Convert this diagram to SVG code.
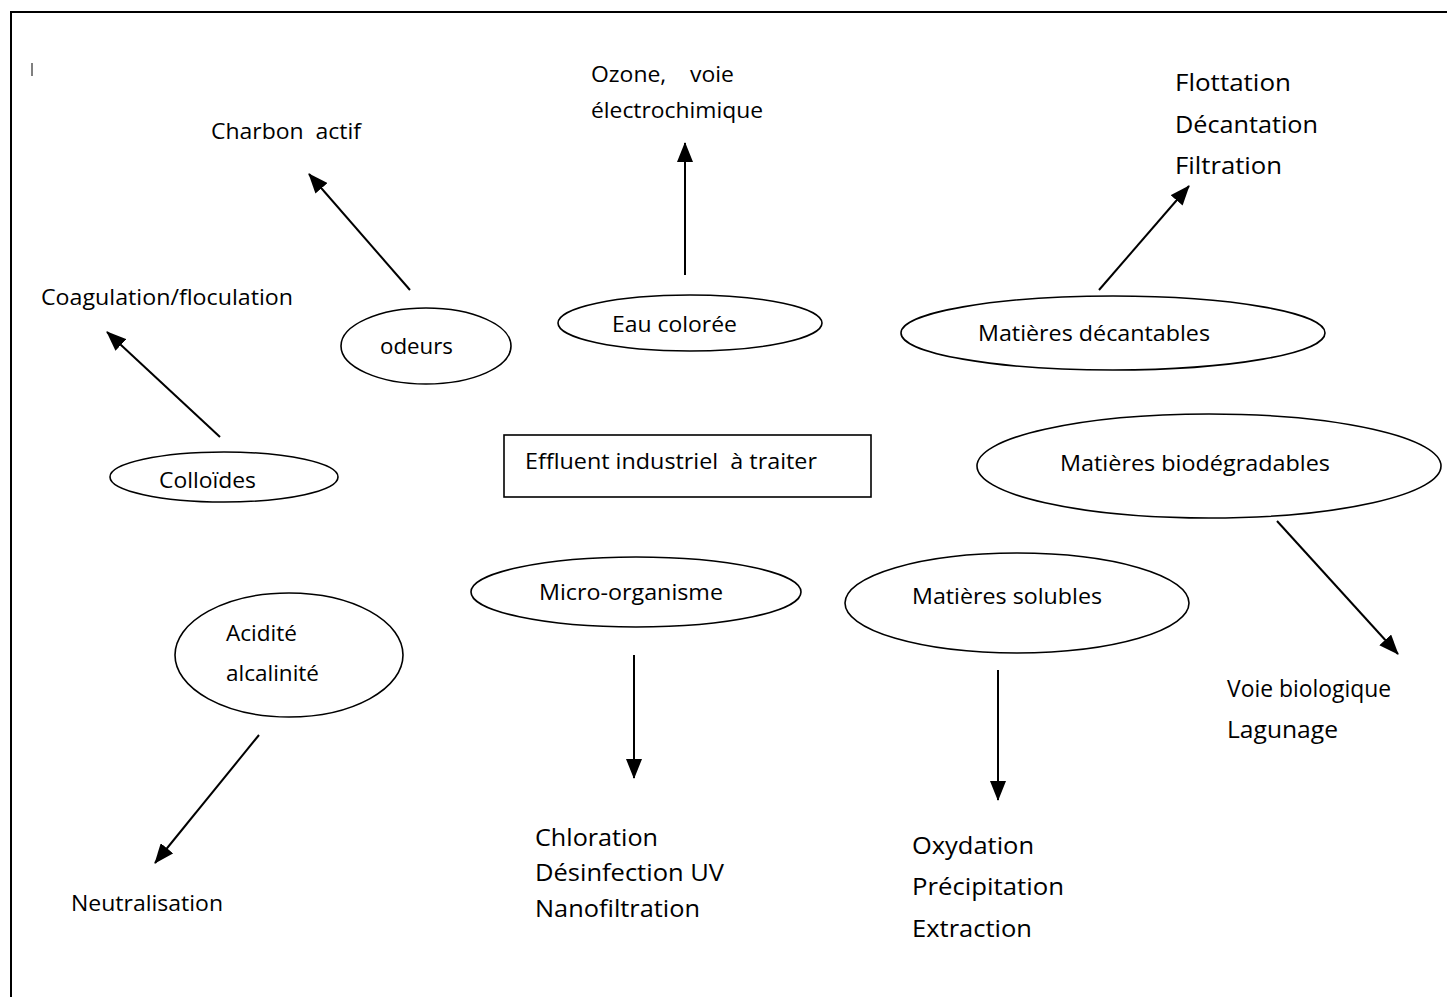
<svg xmlns="http://www.w3.org/2000/svg" width="1447" height="997" viewBox="0 0 1447 997" xml:space="preserve">
<defs>
<marker id="ah" markerUnits="userSpaceOnUse" markerWidth="20" markerHeight="16" viewBox="0 0 20 16" refX="19" refY="8" orient="auto">
<path d="M0,0 L20,8 L0,16 Z" fill="#000"/>
</marker>
<style>
text{font-family:"Open Sans","Liberation Sans",sans-serif;fill:#000;white-space:pre}
.s{font-size:22px}
.l{font-size:24.5px}
.n{fill:#fff;stroke:#000;stroke-width:1.6}
.c{stroke:#000;stroke-width:2;fill:none;marker-end:url(#ah)}
</style>
</defs>
<rect width="1447" height="997" fill="#fff"/>
<rect x="11" y="12" width="1460" height="1000" fill="none" stroke="#000" stroke-width="2"/>
<line x1="32" y1="63" x2="32" y2="76" stroke="#000" stroke-width="1"/>
<g id="connectors">
<line class="c" x1="410" y1="290" x2="309" y2="174"/>
<line class="c" x1="685" y1="275" x2="685" y2="143"/>
<line class="c" x1="1099" y1="290" x2="1189" y2="186"/>
<line class="c" x1="220" y1="437" x2="107" y2="332"/>
<line class="c" x1="1277" y1="521" x2="1398" y2="654"/>
<line class="c" x1="634" y1="655" x2="634" y2="778"/>
<line class="c" x1="998" y1="670" x2="998" y2="800"/>
<line class="c" x1="259" y1="735" x2="155" y2="863"/>
</g>
<g id="charbon"><text class="s" x="211" y="139" textLength="150" lengthAdjust="spacingAndGlyphs">Charbon  actif</text></g>
<g id="ozone"><text class="s" x="591" y="82" textLength="143" lengthAdjust="spacingAndGlyphs">Ozone,    voie</text><text class="s" x="591" y="118" textLength="172" lengthAdjust="spacingAndGlyphs">électrochimique</text></g>
<g id="flottation"><text class="l" x="1175" y="91" textLength="116" lengthAdjust="spacingAndGlyphs">Flottation</text><text class="l" x="1175" y="132.5" textLength="143" lengthAdjust="spacingAndGlyphs">Décantation</text><text class="l" x="1175" y="174" textLength="107" lengthAdjust="spacingAndGlyphs">Filtration</text></g>
<g id="coagulation"><text class="s" x="41" y="305" textLength="252" lengthAdjust="spacingAndGlyphs">Coagulation/floculation</text></g>
<g id="odeurs"><ellipse class="n" cx="426" cy="346" rx="85" ry="38"/><text class="s" x="380" y="354" textLength="73" lengthAdjust="spacingAndGlyphs">odeurs</text></g>
<g id="eau"><ellipse class="n" cx="690" cy="323" rx="132" ry="28"/><text class="s" x="612" y="332" textLength="125" lengthAdjust="spacingAndGlyphs">Eau colorée</text></g>
<g id="decantables"><ellipse class="n" cx="1113" cy="333" rx="212" ry="37"/><text class="s" x="978" y="341" textLength="232" lengthAdjust="spacingAndGlyphs">Matières décantables</text></g>
<g id="colloides"><ellipse class="n" cx="224" cy="477" rx="114" ry="25"/><text class="s" x="159" y="488" textLength="97" lengthAdjust="spacingAndGlyphs">Colloïdes</text></g>
<g id="effluent"><rect class="n" x="504" y="435" width="367" height="62"/><text class="s" x="525" y="469" textLength="292" lengthAdjust="spacingAndGlyphs">Effluent industriel  à traiter</text></g>
<g id="biodegradables"><ellipse class="n" cx="1209" cy="466" rx="232" ry="52"/><text class="s" x="1060" y="471" textLength="270" lengthAdjust="spacingAndGlyphs">Matières biodégradables</text></g>
<g id="micro"><ellipse class="n" cx="636" cy="592" rx="165" ry="35"/><text class="s" x="539" y="600" textLength="184" lengthAdjust="spacingAndGlyphs">Micro-organisme</text></g>
<g id="solubles"><ellipse class="n" cx="1017" cy="603" rx="172" ry="50"/><text class="s" x="912" y="604" textLength="190" lengthAdjust="spacingAndGlyphs">Matières solubles</text></g>
<g id="acidite"><ellipse class="n" cx="289" cy="655" rx="114" ry="62"/><text class="s" x="226" y="641" textLength="71" lengthAdjust="spacingAndGlyphs">Acidité</text><text class="s" x="226" y="681" textLength="93" lengthAdjust="spacingAndGlyphs">alcalinité</text></g>
<g id="neutralisation"><text class="s" x="71" y="911" textLength="152" lengthAdjust="spacingAndGlyphs">Neutralisation</text></g>
<g id="chloration"><text class="l" x="535" y="846" textLength="123" lengthAdjust="spacingAndGlyphs">Chloration</text><text class="l" x="535" y="881" textLength="189" lengthAdjust="spacingAndGlyphs">Désinfection UV</text><text class="l" x="535" y="917" textLength="165" lengthAdjust="spacingAndGlyphs">Nanofiltration</text></g>
<g id="oxydation"><text class="l" x="912" y="854" textLength="122" lengthAdjust="spacingAndGlyphs">Oxydation</text><text class="l" x="912" y="895" textLength="152" lengthAdjust="spacingAndGlyphs">Précipitation</text><text class="l" x="912" y="937" textLength="120" lengthAdjust="spacingAndGlyphs">Extraction</text></g>
<g id="voie"><text class="l" x="1227" y="697" textLength="164" lengthAdjust="spacingAndGlyphs">Voie biologique</text><text class="l" x="1227" y="738" textLength="111" lengthAdjust="spacingAndGlyphs">Lagunage</text></g>
</svg>
